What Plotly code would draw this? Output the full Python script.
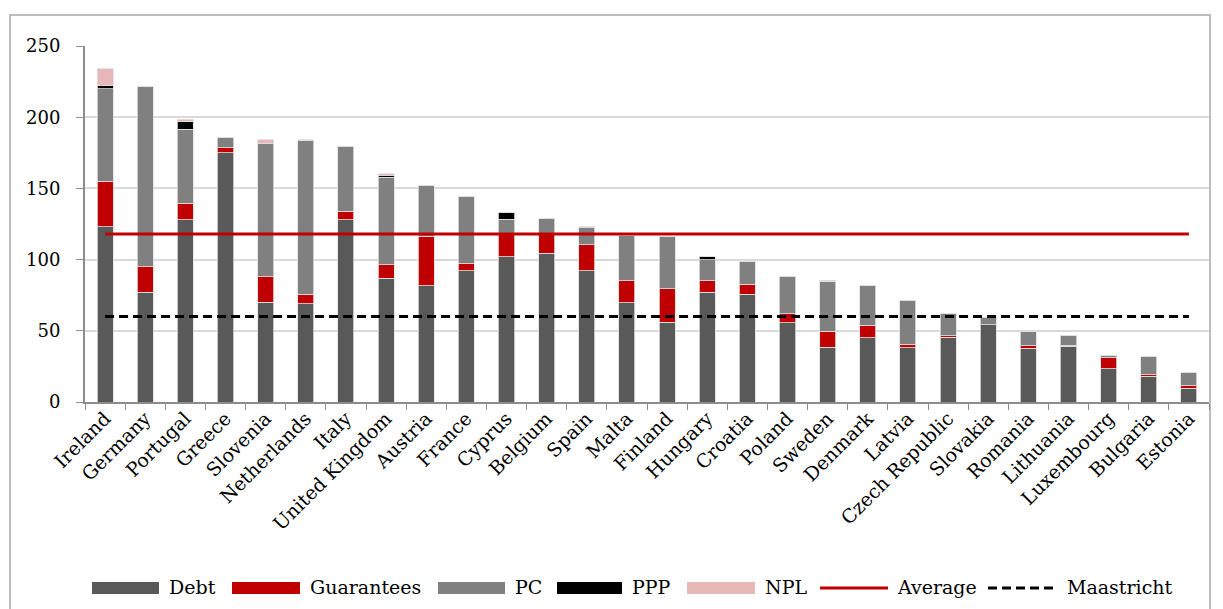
import plotly.graph_objects as go

countries = ["Ireland", "Germany", "Portugal", "Greece", "Slovenia", "Netherlands", "Italy",
             "United Kingdom", "Austria", "France", "Cyprus", "Belgium", "Spain", "Malta",
             "Finland", "Hungary", "Croatia", "Poland", "Sweden", "Denmark", "Latvia",
             "Czech Republic", "Slovakia", "Romania", "Lithuania", "Luxembourg", "Bulgaria", "Estonia"]

debt = [123, 77, 128, 175, 70, 69, 128, 87, 81.5, 92, 102, 104.5, 92, 69.7,
        56, 77, 75.6, 55.6, 38.5, 45, 38, 45.6, 54.2, 37.6, 39, 23.3, 18, 9.6]
guarantees = [32, 18, 11.7, 3.5, 18, 6.6, 6, 9.3, 35, 5.2, 16.5, 13.5, 18.4, 15.5,
              23.7, 8, 7.1, 6.4, 11.3, 9, 2.4, 0.9, 0, 1.9, 0.7, 7.7, 1, 1.9]
pc = [65, 126.5, 52, 7.3, 93.5, 108, 45.6, 61.4, 35.6, 47.2, 10, 11, 12.4, 32,
      36.6, 14.8, 16, 26, 35, 27.5, 31, 15.7, 5.2, 10.3, 7, 1.7, 12.7, 9.2]
ppp = [2.6, 0, 5, 0, 0, 0, 0, 1.5, 0, 0, 4.7, 0, 0.4, 0,
       0, 2.3, 0, 0, 0, 0, 0, 0, 0, 0, 0, 0, 0, 0]
npl = [11.4, 0, 1.7, 0, 2.8, 0.6, 0, 1.2, 0, 0, 0, 0, 0, 0,
       0, 0, 0.5, 0, 0.7, 0.3, 0, 0, 0, 0, 0, 0, 0, 0]

average_value = 118
maastricht_value = 60

y_ticks = [0, 50, 100, 150, 200, 250]

FONT = "DejaVu Serif"

COLORS = {"Debt": "#595959", "Guarantees": "#C00000", "PC": "#808080",
          "PPP": "#000000", "NPL": "#E6B9B8"}

fig = go.Figure()
series = [("Debt", debt), ("Guarantees", guarantees), ("PC", pc), ("PPP", ppp), ("NPL", npl)]
for name, vals in series:
    fig.add_trace(go.Bar(
        x=countries, y=vals, name=name,
        marker=dict(color=COLORS[name], line=dict(color="#e0e0e0", width=0.8)),
    ))

fig.add_trace(go.Scatter(
    x=countries, y=[average_value] * len(countries), name="Average",
    mode="lines", line=dict(color="#C00000", width=3),
))
fig.add_trace(go.Scatter(
    x=countries, y=[maastricht_value] * len(countries), name="Maastricht",
    mode="lines", line=dict(color="#000000", width=3, dash="9px,5px"),
))

# page body has an 8px margin: work in screen pixels and convert
OFF = 8
SW, SH = 1223, 609
W, H = SW - OFF, SH - OFF
plot_left, plot_right, plot_top, plot_bottom = 85, 1209, 46, 402  # screen px
L = plot_left - OFF
R = W - (plot_right - OFF)
T = plot_top - OFF
B = H - (plot_bottom - OFF)
pw = W - L - R
ph = H - T - B


def px_x(p):
    return (p - plot_left) / pw


def px_y(p):
    return (plot_bottom - p) / ph


fig.update_layout(
    width=W, height=H,
    margin=dict(l=L, r=R, t=T, b=B, pad=0, autoexpand=False),
    barmode="stack",
    bargap=0.6,
    paper_bgcolor="white",
    plot_bgcolor="white",
    font=dict(family=FONT, size=18, color="#000000"),
    showlegend=False,
    xaxis=dict(
        tickangle=-45,
        tickfont=dict(family=FONT, size=19, color="#000000"),
        showline=True, linecolor="#8c8c8c", linewidth=2,
        ticks="outside", ticklen=6, tickcolor="#8c8c8c", tickwidth=1,
        tickson="boundaries",
        ticklabelstandoff=-4,
        showgrid=False, automargin=False,
        range=[-0.5, len(countries) - 0.5],
    ),
    yaxis=dict(
        range=[0, 250],
        tickvals=y_ticks,
        tickfont=dict(family=FONT, size=18, color="#000000"),
        showline=True, linecolor="#8c8c8c", linewidth=2,
        ticks="outside", ticklen=7, tickcolor="#8c8c8c", tickwidth=1,
        ticklabelstandoff=12,
        showgrid=True, gridcolor="#d9d9d9", gridwidth=1.5,
        zeroline=False, automargin=False,
    ),
)

# outer chart border
fig.add_shape(
    type="rect", xref="paper", yref="paper",
    x0=px_x(10), x1=px_x(1210),
    y0=px_y(640), y1=px_y(15),
    line=dict(color="#a6a6a6", width=1.5), fillcolor="rgba(0,0,0,0)",
    layer="below",
)

# custom legend (wide swatches as in the original)
legend_y = 588
legend_items = [
    ("Debt", "bar", COLORS["Debt"], 92, 159, 167),
    ("Guarantees", "bar", COLORS["Guarantees"], 232, 300, 308),
    ("PC", "bar", COLORS["PC"], 438, 505, 513),
    ("PPP", "bar", COLORS["PPP"], 557, 622, 630),
    ("NPL", "bar", COLORS["NPL"], 687, 755, 763),
    ("Average", "line", "#C00000", 820, 888, 895),
    ("Maastricht", "dash", "#000000", 988, 1055, 1065),
]
for label, kind, col, sx0, sx1, tx in legend_items:
    if kind == "bar":
        fig.add_shape(type="rect", xref="paper", yref="paper",
                      x0=px_x(sx0), x1=px_x(sx1),
                      y0=px_y(legend_y + 6), y1=px_y(legend_y - 6),
                      line=dict(width=0), fillcolor=col)
    else:
        fig.add_shape(type="line", xref="paper", yref="paper",
                      x0=px_x(sx0), x1=px_x(sx1),
                      y0=px_y(legend_y), y1=px_y(legend_y),
                      line=dict(color=col, width=3,
                                dash="solid" if kind == "line" else "9px,5px"))
    fig.add_annotation(xref="paper", yref="paper", x=px_x(tx), y=px_y(legend_y - 1),
                       text=label, showarrow=False, xanchor="left", yanchor="middle",
                       font=dict(family=FONT, size=19, color="#000000"))

fig.write_html("out.html")
